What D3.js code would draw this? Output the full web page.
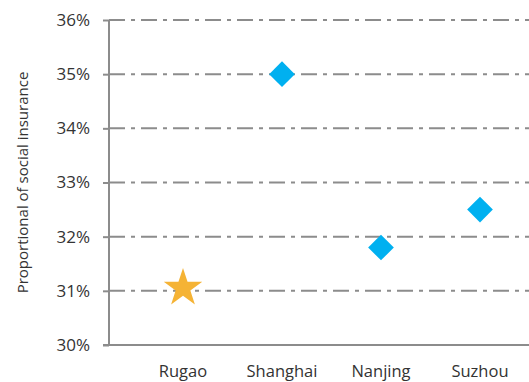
<!DOCTYPE html>
<html><head><meta charset="utf-8">
<script src="https://cdn.jsdelivr.net/npm/d3@7"></script>
<style>body{margin:0;background:#fff;} svg{display:block;} text{font-family:"Open Sans",sans-serif;fill:#333;}</style>
</head><body>
<svg id="c" width="529" height="382"></svg>
<script>
const categories = ["Rugao","Shanghai","Nanjing","Suzhou"];
const values = [31.05, 35.0, 31.8, 32.5];
const markers = ["star","diamond","diamond","diamond"];
const yTicks = [30,31,32,33,34,35,36];
const yTitle = "Proportional of social insurance";

const svg = d3.select("#c");
const m = {left:109, top:20, bottom:345, right:529};
const y = d3.scaleLinear().domain([30,36]).range([m.bottom, m.top]);
const x = d3.scalePoint().domain(categories).range([183, 480]);
const grey = "#8c8c8c";

// gridlines
svg.append("g").selectAll("line").data(yTicks.filter(t=>t>30)).join("line")
  .attr("x1", m.left).attr("x2", m.right)
  .attr("y1", d=>y(d)).attr("y2", d=>y(d))
  .attr("stroke", grey).attr("stroke-width", 2)
  .attr("stroke-dasharray", "16,6,4,6");

// y axis
const ya = svg.append("g").attr("transform", `translate(${m.left},0)`)
  .call(d3.axisLeft(y).tickValues(yTicks).tickFormat(d=>d+"%").tickSize(6).tickPadding(13));
ya.select(".domain").attr("stroke", grey).attr("stroke-width", 2).attr("d", `M0,${m.top}V${m.bottom}`);
ya.selectAll(".tick line").attr("stroke", grey).attr("stroke-width", 2);
ya.selectAll(".tick text").attr("font-size", 17).attr("fill","#333").attr("font-family","Open Sans");

// x axis
svg.append("line").attr("x1", m.left-6).attr("x2", m.right).attr("y1", m.bottom).attr("y2", m.bottom)
  .attr("stroke", grey).attr("stroke-width", 2);
svg.append("g").selectAll("text").data(categories).join("text")
  .attr("x", d=>x(d)).attr("y", 377).attr("text-anchor","middle").attr("font-size", 16.5).text(d=>d);

// y title
svg.append("text").attr("transform", `translate(28,${(m.top+m.bottom)/2}) rotate(-90)`)
  .attr("text-anchor","middle").attr("font-size", 15).text(yTitle);

// markers
const star = d3.symbol().type(d3.symbolStar).size(460);
const diamond = d3.symbol().type(d3.symbolSquare).size(330);
svg.append("g").selectAll("path").data(categories.map((c,i)=>({c, v:values[i], m:markers[i]}))).join("path")
  .attr("transform", d=>`translate(${x(d.c)},${y(d.v)})` + (d.m==="diamond"?" rotate(45)":""))
  .attr("d", d=>d.m==="star"?star():diamond())
  .attr("fill", d=>d.m==="star"?"#F5B335":"#00B0F0");
</script>
</body></html>
